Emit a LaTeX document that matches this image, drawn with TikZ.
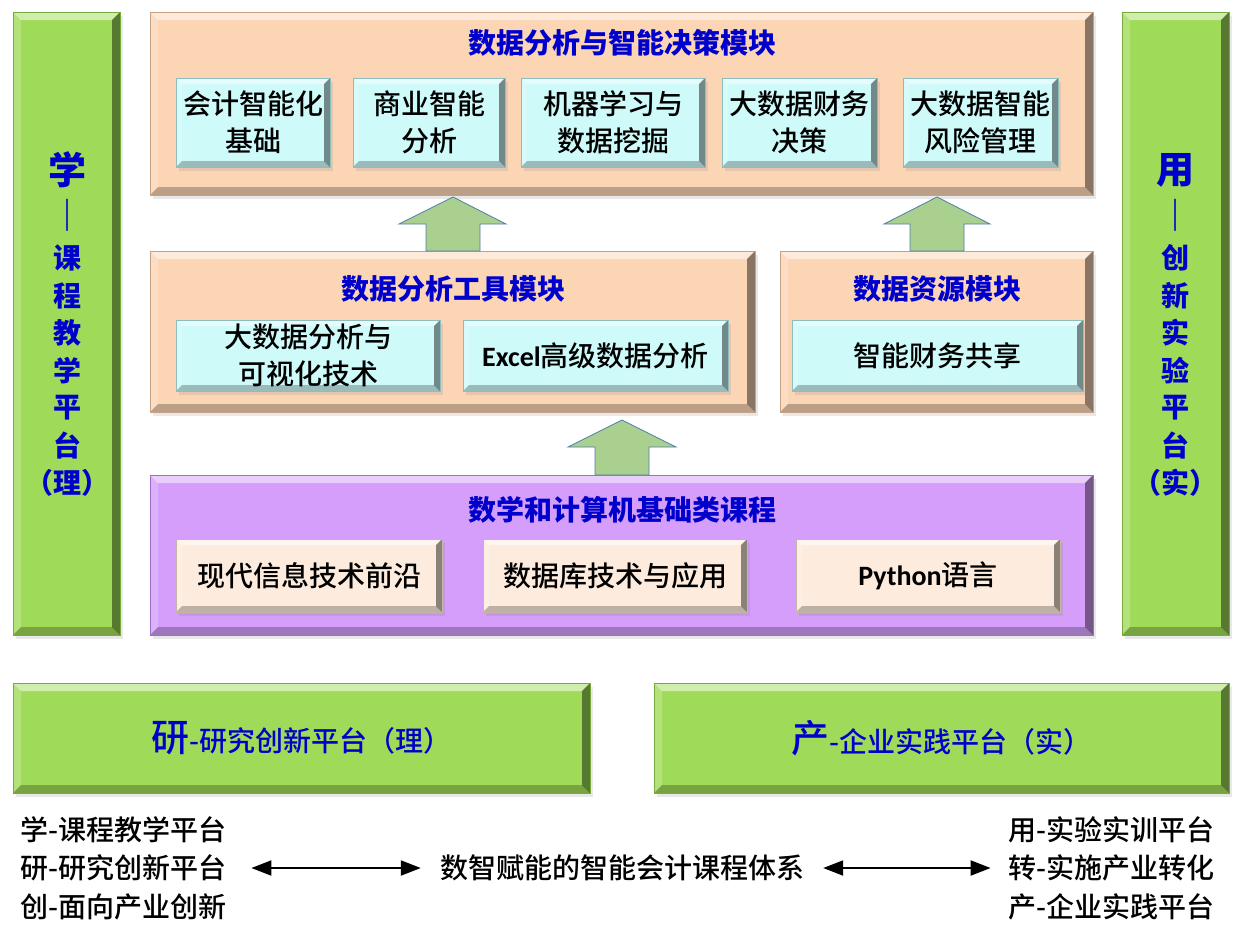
\documentclass[tikz,border=0pt]{standalone}
\usepackage{fontspec}
\setmainfont{Noto Sans CJK SC}
\newfontfamily\med{Noto Sans CJK SC Medium}
\newfontfamily\lat{Carlito}
\usetikzlibrary{shadows,arrows.meta}
\definecolor{gr}{RGB}{159,219,88}
\definecolor{grd}{RGB}{120,170,60}
\definecolor{pe}{RGB}{252,213,181}
\definecolor{ped}{RGB}{200,160,130}
\definecolor{cy}{RGB}{206,250,250}
\definecolor{cyd}{RGB}{140,190,190}
\definecolor{pu}{RGB}{212,158,250}
\definecolor{pud}{RGB}{160,110,200}
\definecolor{be}{RGB}{253,236,222}
\definecolor{bed}{RGB}{200,180,165}
\definecolor{bl}{RGB}{0,0,204}
\definecolor{arf}{RGB}{169,208,142}
\definecolor{ard}{RGB}{80,125,170}
\newcommand\fa{\fontsize{28pt}{37pt}\selectfont}
\newcommand\fb{\fontsize{38pt}{40pt}\selectfont}
\tikzset{
  bev/.style={path picture={
    \path (path picture bounding box.north west) coordinate (pnw)
          (path picture bounding box.south east) coordinate (pse);
    \fill[white,opacity=.5] (pnw) -- (pnw -| pse) -- ++(-#1,-#1) -- ([shift={(#1,-#1)}]pnw) -- cycle;
    \fill[white,opacity=.2] (pnw) -- ([shift={(#1,-#1)}]pnw) -- ([shift={(#1,#1)}]pnw |- pse) -- (pnw |- pse) -- cycle;
    \fill[black,opacity=.25] (pse) -- (pse -| pnw) -- ++(#1,#1) -- ([shift={(-#1,#1)}]pse) -- cycle;
    \fill[black,opacity=.45] (pse) -- ([shift={(-#1,#1)}]pse) -- ([shift={(-#1,-#1)}]pse |- pnw) -- (pse |- pnw) -- cycle;
  }},
  box/.style={anchor=north west, inner sep=0pt, outer sep=0pt, align=center, font=\fa\med,
    drop shadow={opacity=0.18, shadow xshift=3pt, shadow yshift=-4pt}},
  greenbox/.style={box, fill=gr, draw=grd, line width=0.4pt, bev=8pt},
  peachbox/.style={box, fill=pe, draw=ped, line width=0.4pt, bev=8pt},
  purplebox/.style={box, fill=pu, draw=pud, line width=0.4pt, bev=8pt},
  cyanbox/.style={box, fill=cy, draw=cyd, line width=0.4pt, bev=6pt},
  beigebox/.style={box, fill=be, draw=bed, line width=0.4pt, bev=6pt},
  ttl/.style={font=\fa\bfseries, text=bl, inner sep=0pt},
  side/.style={font=\fa\bfseries, text=bl, inner sep=0pt},
  blockarrow/.style={fill=arf, draw=ard, line width=0.8pt, line join=miter},
  plain/.style={font=\fontsize{28pt}{38.5pt}\selectfont\med, inner sep=0pt, align=left},
  dbl/.style={{Triangle[length=20pt,width=15pt]}-{Triangle[length=20pt,width=15pt]}, line width=2pt},
}
\begin{document}
\begin{tikzpicture}[x=1pt,y=-1pt]
\useasboundingbox[fill=white] (0,0) rectangle (1246,943);

% side bars
\node[greenbox, minimum width=107pt, minimum height=623pt] (lbar) at (13,12) {};
\node[greenbox, minimum width=107pt, minimum height=623pt] (rbar) at (1122,12) {};
\node[side, font=\fb\bfseries] (l1) at (67,170) {学};
\node[side, font=\fontsize{32pt}{34pt}\selectfont\bfseries] (l2) at (67,215) {｜};
\foreach \t [count=\i from 3] in {课,程,教,学,平,台,（理）}
  \node[side] (l\i) at (67,{258+37.5*(\i-3)}) {\t};
\node[side, font=\fb\bfseries] (r1) at (1175,170) {用};
\node[side, font=\fontsize{32pt}{34pt}\selectfont\bfseries] (r2) at (1175,215) {｜};
\foreach \t [count=\i from 3] in {创,新,实,验,平,台,（实）}
  \node[side] (r\i) at (1175,{258+37.5*(\i-3)}) {\t};

% top module
\node[peachbox, minimum width=943pt, minimum height=183pt] (top) at (150,12) {};
\node[ttl] (toptitle) at (622,43) {数据分析与智能决策模块};
\node[cyanbox, minimum width=154pt, minimum height=89pt] (t1) at (176,78) {会计智能化\\基础};
\node[cyanbox, minimum width=152pt, minimum height=89pt] (t2) at (353,78) {商业智能\\分析};
\node[cyanbox, minimum width=184pt, minimum height=89pt] (t3) at (521,78) {机器学习与\\数据挖掘};
\node[cyanbox, minimum width=155pt, minimum height=89pt] (t4) at (722,78) {大数据财务\\决策};
\node[cyanbox, minimum width=155pt, minimum height=89pt] (t5) at (903,78) {大数据智能\\风险管理};

% middle modules
\node[peachbox, minimum width=605pt, minimum height=161pt] (mid) at (150,251) {};
\node[ttl] (midtitle) at (453,289) {数据分析工具模块};
\node[cyanbox, minimum width=264pt, minimum height=71pt] (m1) at (176,320) {大数据分析与\\可视化技术};
\node[cyanbox, minimum width=265pt, minimum height=71pt] (m2) at (463,320) {{\lat\bfseries Excel}高级数据分析};
\node[peachbox, minimum width=313pt, minimum height=161pt] (res) at (780,251) {};
\node[ttl] (restitle) at (937,289) {数据资源模块};
\node[cyanbox, minimum width=291pt, minimum height=71pt] (r) at (792,320) {智能财务共享};

% base module
\node[purplebox, minimum width=943pt, minimum height=160pt] (base) at (150,475) {};
\node[ttl] (basetitle) at (622,510) {数学和计算机基础类课程};
\node[beigebox, minimum width=266pt, minimum height=73pt] (b1) at (176,539) {现代信息技术前沿};
\node[beigebox, minimum width=264pt, minimum height=73pt] (b2) at (483,539) {数据库技术与应用};
\node[beigebox, minimum width=264pt, minimum height=73pt] (b3) at (796,539) {{\lat\bfseries Python}语言};

% block arrows
\draw[blockarrow] (453,197) -- (506,224) -- (480,224) -- (480,251) -- (426,251) -- (426,224) -- (399,224) -- cycle;
\draw[blockarrow] (937,197) -- (990,224) -- (964,224) -- (964,251) -- (910,251) -- (910,224) -- (884,224) -- cycle;
\draw[blockarrow] (622,420) -- (676,447) -- (649,447) -- (649,475) -- (595,475) -- (595,447) -- (568,447) -- cycle;

% bottom platforms
\node[greenbox, minimum width=577pt, minimum height=110pt] (yan) at (13,683) {};
\node[inner sep=0pt, text=bl] (yantext) at (yan.center) {{\fb\med 研}{\fa\med -研究创新平台（理）}};
\node[greenbox, minimum width=575pt, minimum height=110pt] (chan) at (654,683) {};
\node[inner sep=0pt, text=bl] (chantext) at (chan.center) {{\fb\med 产}{\fa\med -企业实践平台（实）}};

% legend
\node[plain, anchor=west] (lt) at (20,868) {学-课程教学平台\\研-研究创新平台\\创-面向产业创新};
\node[plain] (ct) at (622,868) {数智赋能的智能会计课程体系};
\node[plain, anchor=east] (rt) at (1215,868) {用-实验实训平台\\转-实施产业转化\\产-企业实践平台};
\draw[dbl, shorten <=25pt, shorten >=19pt] (lt.east) -- (ct.west);
\draw[dbl, shorten <=19pt, shorten >=18pt] (ct.east) -- (rt.west);
\end{tikzpicture}
\end{document}
